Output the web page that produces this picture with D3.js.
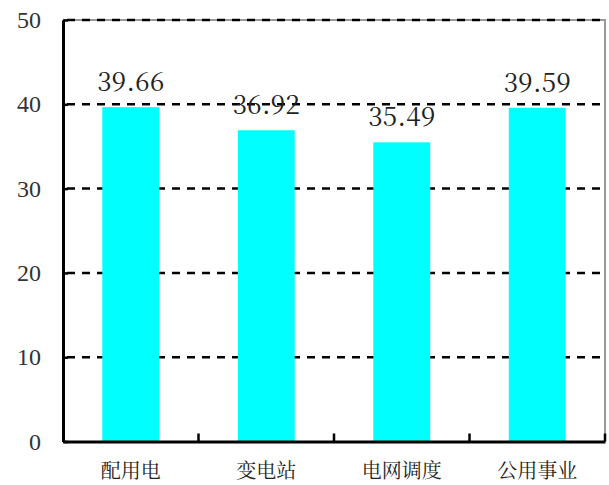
<!DOCTYPE html>
<html>
<head>
<meta charset="utf-8">
<script src="https://cdn.jsdelivr.net/npm/d3@7"></script>
<style>
  body { margin: 0; background: #fff; }
  svg { display: block; }
</style>
</head>
<body>
<div id="chart"></div>
<script>
var categories = ["配用电", "变电站", "电网调度", "公用事业"];
var values = [39.66, 36.92, 35.49, 39.59];
var labels = ["39.66", "36.92", "35.49", "39.59"];
var yTicks = [0, 10, 20, 30, 40, 50];

var W = 609, H = 485,
    plotLeft = 63, plotRight = 605, plotTop = 20, plotBottom = 441.5;

var serifFont = "'Liberation Serif'";
var songFont = "'Noto Serif CJK SC'";

var svg = d3.select("#chart").append("svg")
    .attr("width", W)
    .attr("height", H);

var x = d3.scaleBand()
    .domain(categories)
    .range([plotLeft, plotRight])
    .paddingInner(0.58)
    .paddingOuter(0.29);

var y = d3.scaleLinear()
    .domain([0, 50])
    .range([plotBottom, plotTop]);

// plot frame (grey top/right edges)
svg.append("path")
    .attr("d", "M" + plotLeft + "," + plotTop + "H" + plotRight + "V" + plotBottom)
    .attr("fill", "none")
    .attr("stroke", "#999")
    .attr("stroke-width", 2);

// dashed gridlines
svg.append("g")
  .selectAll("line")
    .data(yTicks.filter(function(d) { return d > 0; }))
  .enter().append("line")
    .attr("x1", plotLeft + 4)
    .attr("x2", plotRight)
    .attr("y1", function(d) { return y(d); })
    .attr("y2", function(d) { return y(d); })
    .attr("stroke", "#000")
    .attr("stroke-width", 2.5)
    .attr("stroke-dasharray", "8,7");

// bars
svg.append("g")
  .selectAll("rect")
    .data(values)
  .enter().append("rect")
    .attr("x", function(d, i) { return x(categories[i]); })
    .attr("y", function(d) { return y(d); })
    .attr("width", x.bandwidth())
    .attr("height", function(d) { return y(0) - y(d); })
    .attr("fill", "#00ffff");

// value labels
svg.append("g")
  .selectAll("text")
    .data(values)
  .enter().append("text")
    .attr("x", function(d, i) { return x(categories[i]) + x.bandwidth() / 2; })
    .attr("y", function(d) { return y(d) - 16; })
    .attr("text-anchor", "middle")
    .attr("textLength", 67)
    .attr("lengthAdjust", "spacing")
    .style("font-family", songFont)
    .style("font-size", "26px")
    .style("fill", "#222")
    .text(function(d, i) { return labels[i]; });

// y axis
var yAxis = svg.append("g")
    .attr("transform", "translate(" + plotLeft + ",0)")
    .call(d3.axisLeft(y)
      .tickValues(yTicks)
      .tickSize(-5)
      .tickSizeOuter(0)
      .tickPadding(22));

yAxis.select(".domain").attr("stroke", "#000").attr("stroke-width", 3);
yAxis.selectAll(".tick line").attr("stroke", "#000").attr("stroke-width", 2.5);
yAxis.selectAll(".tick text")
    .style("font-family", serifFont)
    .style("font-size", "24px")
    .style("fill", "#333");

// x axis: labels at band centres, ticks at band boundaries
var xAxis = svg.append("g")
    .attr("transform", "translate(0," + plotBottom + ")")
    .call(d3.axisBottom(x).tickSize(0).tickSizeOuter(0).tickPadding(22));

xAxis.select(".domain").attr("stroke", "#000").attr("stroke-width", 3);
xAxis.selectAll(".tick text")
    .attr("dy", "0.71em")
    .style("font-family", songFont)
    .style("font-size", "20px")
    .style("fill", "#222");

xAxis.append("g")
  .selectAll("line")
    .data(categories)
  .enter().append("line")
    .attr("x1", function(d) { return x(d) + x.bandwidth() / 2 + x.step() / 2; })
    .attr("x2", function(d) { return x(d) + x.bandwidth() / 2 + x.step() / 2; })
    .attr("y1", 0)
    .attr("y2", -8)
    .attr("stroke", "#000")
    .attr("stroke-width", 2.5);
</script>
</body>
</html>
